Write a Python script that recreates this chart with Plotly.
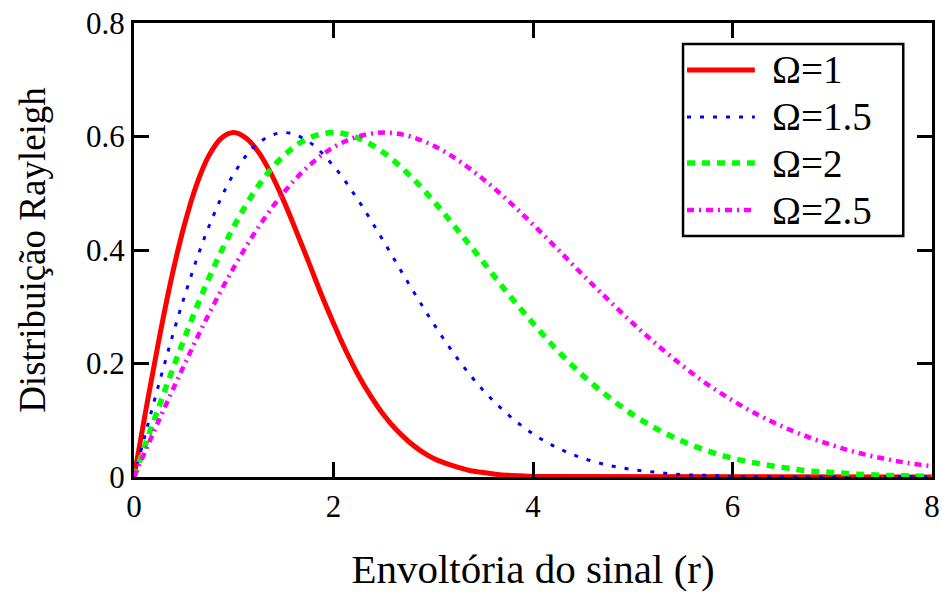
import plotly.graph_objects as go

# Envelope values r (step 0.25 from 0 to 8)
r = [i * 0.25 for i in range(33)]
# Finer envelope grid for the narrow Omega=1 curve
r_fine = [i * 0.125 for i in range(33)] + [8.0]

# Rayleigh distribution for each Omega
pdf_omega_1 = [0.000, 0.124, 0.242, 0.350, 0.441, 0.514, 0.566, 0.597, 0.607, 0.597,
               0.572, 0.534, 0.487, 0.434, 0.379, 0.323, 0.271, 0.222, 0.179, 0.142,
               0.110, 0.084, 0.063, 0.046, 0.033, 0.024, 0.017, 0.011, 0.008, 0.005,
               0.003, 0.002, 0.001, 0.000]
pdf_omega_15 = [0.000, 0.164, 0.315, 0.441, 0.534, 0.589, 0.607, 0.591, 0.548, 0.487,
                0.416, 0.342, 0.271, 0.207, 0.153, 0.110, 0.076, 0.051, 0.033, 0.021,
                0.013, 0.008, 0.004, 0.003, 0.001, 0.001, 0.000, 0.000, 0.000, 0.000,
                0.000, 0.000, 0.000]
pdf_omega_2 = [0.000, 0.124, 0.242, 0.350, 0.441, 0.514, 0.566, 0.597, 0.607, 0.597,
               0.572, 0.534, 0.487, 0.434, 0.379, 0.323, 0.271, 0.222, 0.179, 0.142,
               0.110, 0.084, 0.063, 0.046, 0.033, 0.024, 0.017, 0.011, 0.008, 0.005,
               0.003, 0.002, 0.001]
pdf_omega_25 = [0.000, 0.100, 0.196, 0.287, 0.369, 0.441, 0.501, 0.548, 0.581, 0.600,
                0.607, 0.601, 0.584, 0.558, 0.525, 0.487, 0.445, 0.401, 0.356, 0.313,
                0.271, 0.232, 0.196, 0.163, 0.135, 0.110, 0.089, 0.071, 0.056, 0.043,
                0.033, 0.025, 0.019]

series_names = ["Ω=1", "Ω=1.5", "Ω=2", "Ω=2.5"]
series_x = [r_fine, r, r, r]
series_values = [pdf_omega_1, pdf_omega_15, pdf_omega_2, pdf_omega_25]
series_colors = ["#ff0000", "#0000ff", "#00ff00", "#ff00ff"]
series_dash = ["solid", "4px,9px", "8px,7px", "7px,5px,2px,5px"]
series_width = [5, 3, 5.5, 4.5]

x_ticks = [0, 2, 4, 6, 8]
y_ticks = [0, 0.2, 0.4, 0.6, 0.8]

FONT = "Liberation Serif, Times New Roman, serif"

fig = go.Figure()
for name, xs, vals, col, dash, w in zip(series_names, series_x, series_values,
                                        series_colors, series_dash, series_width):
    fig.add_trace(go.Scatter(
        x=xs, y=vals, mode="lines", name=name, showlegend=False,
        line=dict(color=col, dash=dash, width=w, shape="spline", smoothing=1.0),
    ))

# Boxed key in the upper right corner of the plot area (paper coordinates)
key_left, key_right, key_bottom, key_top = 0.688, 0.964, 0.531, 0.954
sample_x0, sample_x1, label_x = 0.693, 0.778, 0.797
row_y = [0.8965, 0.793, 0.6916, 0.588]

shapes = [dict(type="rect", xref="paper", yref="paper", layer="above",
               x0=key_left, x1=key_right, y0=key_bottom, y1=key_top,
               fillcolor="white", line=dict(color="black", width=2.5))]
annotations = []
for name, col, dash, w, y in zip(series_names, series_colors, series_dash,
                                 series_width, row_y):
    shapes.append(dict(type="line", xref="paper", yref="paper", layer="above",
                       x0=sample_x0, x1=sample_x1, y0=y, y1=y,
                       line=dict(color=col, dash=dash, width=w)))
    annotations.append(dict(xref="paper", yref="paper", x=label_x, y=y,
                            xanchor="left", yanchor="middle", showarrow=False,
                            text=name, font=dict(family=FONT, size=39, color="black")))

axis_common = dict(
    showline=True, linecolor="black", linewidth=3, mirror="ticks",
    ticks="inside", ticklen=15, tickwidth=3, tickcolor="black",
    showgrid=False, zeroline=False, automargin=False,
    tickfont=dict(family=FONT, size=31, color="black"),
)

fig.update_layout(
    width=942, height=592,
    margin=dict(l=134, r=10, t=23, b=115),
    paper_bgcolor="white", plot_bgcolor="white",
    font=dict(family=FONT, color="black"),
    xaxis=dict(
        range=[0, 8], tickvals=x_ticks, ticktext=[str(v) for v in x_ticks],
        title=dict(text="Envoltória do sinal (r)", font=dict(family=FONT, size=41),
                   standoff=40),
        ticklabelstandoff=0,
        **axis_common,
    ),
    yaxis=dict(
        range=[0, 0.8], tickvals=y_ticks, ticktext=["0", "0.2", "0.4", "0.6", "0.8"],
        title=dict(text="Distribuição Rayleigh", font=dict(family=FONT, size=37),
                   standoff=30),
        ticklabelstandoff=0,
        **axis_common,
    ),
    shapes=shapes,
    annotations=annotations,
    showlegend=False,
)

fig.write_html("out.html")
